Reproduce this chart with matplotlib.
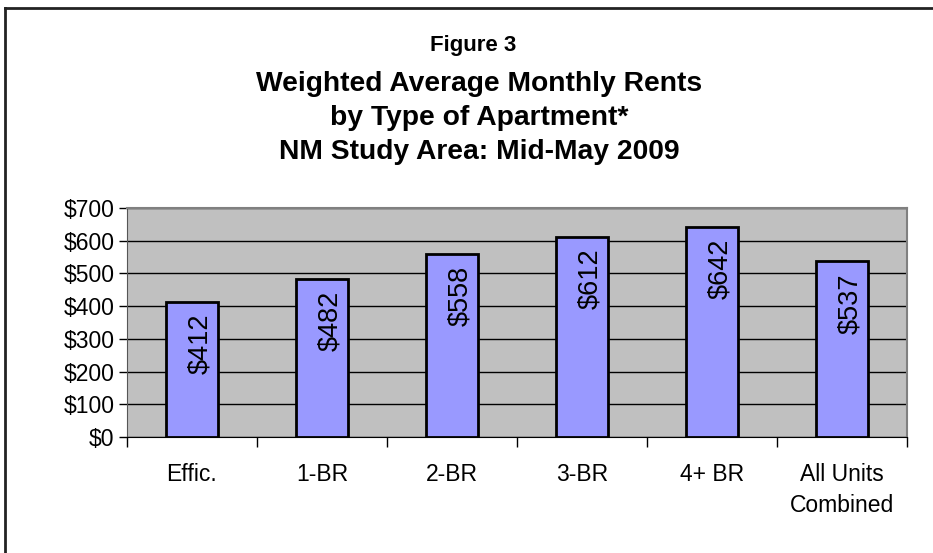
import numpy as np
import matplotlib.pyplot as plt
from matplotlib.lines import Line2D

plt.rcParams['font.family'] = ['Liberation Sans', 'DejaVu Sans']

categories = ['Effic.', '1-BR', '2-BR', '3-BR', '4+ BR', 'All Units\nCombined']
rents = [412, 482, 558, 612, 642, 537]
y_ticks = [0, 100, 200, 300, 400, 500, 600, 700]
y_labels = ['$0', '$100', '$200', '$300', '$400', '$500', '$600', '$700']

fig = plt.figure(figsize=(9.33, 5.53), dpi=100)
ax = fig.add_axes([127 / 933, 1 - 437 / 553, (907 - 127) / 933, (437 - 208) / 553])

# outer frame (top and left only, as in the source image)
fig.add_artist(Line2D([5 / 933, 5 / 933], [0, 1 - 8 / 553], transform=fig.transFigure,
                      color='#222222', lw=2))
fig.add_artist(Line2D([5 / 933, 1], [1 - 8 / 553, 1 - 8 / 553], transform=fig.transFigure,
                      color='#222222', lw=2))

x = np.arange(len(categories))
ax.set_facecolor('#C0C0C0')
ax.bar(x, rents, width=0.4, color='#9999FF', edgecolor='black', linewidth=2, zorder=3)
ax.set_xlim(-0.5, len(categories) - 0.5)
ax.set_ylim(0, 700)
ax.set_yticks(y_ticks)
ax.set_yticklabels(y_labels, fontsize=16.5)
ax.yaxis.grid(True, color='black', linewidth=1, zorder=1)
ax.set_axisbelow(True)

ax.set_xticks(x)
ax.set_xticklabels(categories, fontsize=16.5, linespacing=1.45, va='top')
ax.set_xticks(np.arange(len(categories) + 1) - 0.5, minor=True)
ax.tick_params(axis='x', which='major', length=0, pad=19)
ax.tick_params(axis='x', which='minor', length=7, width=1, direction='out')
ax.tick_params(axis='y', length=6, width=1, direction='out', pad=3)

for side in ['top', 'right']:
    ax.spines[side].set_color('#808080')
    ax.spines[side].set_linewidth(1.5)
ax.spines['left'].set_color('#555555')
ax.spines['bottom'].set_color('black')

for xi, v in zip(x, rents):
    ax.text(xi + 0.06, v - 36, f'${v}', rotation=90, ha='center', va='top',
            fontsize=19.5, zorder=4)

fig.text(473 / 933, 1 - 45 / 553, 'Figure 3', ha='center', va='center',
         fontsize=16, fontweight='bold')
fig.text(479 / 933, 1 - 118 / 553,
         'Weighted Average Monthly Rents\nby Type of Apartment*\nNM Study Area: Mid-May 2009',
         ha='center', va='center', fontsize=20.3, fontweight='bold', linespacing=1.41)

fig.savefig('out.png', dpi=100)
